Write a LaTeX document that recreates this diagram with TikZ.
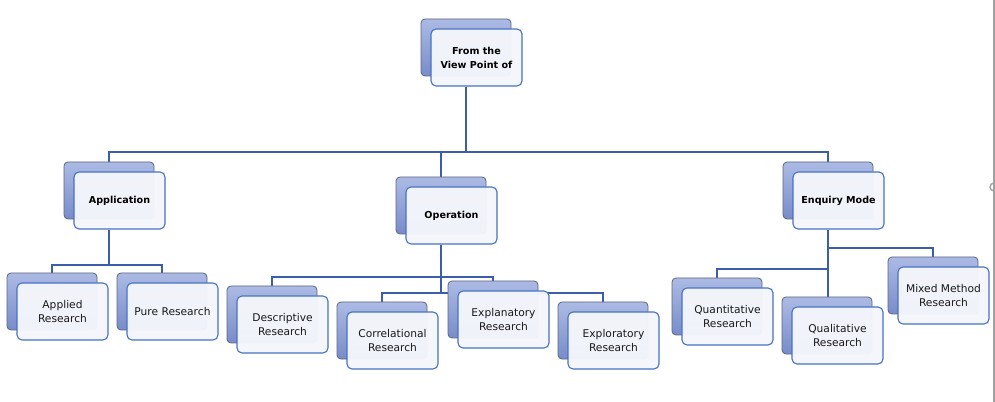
\documentclass[tikz,border=0pt]{standalone}
\usepackage{fontspec}
\setmainfont{DejaVu Sans}
\newdimen\pxu \pxu=0.75pt
\definecolor{backtop}{RGB}{172,186,228}
\definecolor{backbot}{RGB}{120,140,202}
\definecolor{backline}{RGB}{92,102,128}
\definecolor{frontfill}{RGB}{244,246,251}
\definecolor{frontline}{RGB}{70,114,196}
\definecolor{connc}{RGB}{58,94,170}
\definecolor{framec}{RGB}{160,160,160}
\pgfdeclarelayer{front}
\pgfsetlayers{main,front}
\newcommand{\rbox}[5][]{%
  \node[backbox] (#2-b) at (#3+45,#4+28.5) {};
  \node[frontbox,#1] (#2) at (#3+55.5,#4+38.5) {#5};
}
\begin{document}
\begin{tikzpicture}[x=0.75pt,y=-0.75pt,
  backbox/.style={rectangle, rounded corners=4\pxu, minimum width=90\pxu, minimum height=57\pxu,
    inner sep=0pt, top color=backtop, bottom color=backbot, draw=backline, line width=0.8\pxu},
  frontbox/.style={rectangle, rounded corners=5\pxu, minimum width=91\pxu, minimum height=57\pxu,
    inner sep=0pt, fill=frontfill, fill opacity=0.97, text opacity=1, draw=frontline, line width=1.1\pxu,
    align=center, font=\fontsize{8}{10.5}\selectfont, text=black!90},
  headbox/.style={font=\fontsize{7.2}{10.5}\selectfont\bfseries, text=black},
  conn/.style={draw=connc, line width=2.4\pxu}]
\useasboundingbox (0,0) rectangle (995,402);
\coordinate (bus1) at (0,152);
\coordinate (bus2) at (0,265);
\coordinate (bus3a) at (0,277);
\coordinate (bus3b) at (0,293);
\coordinate (bus4a) at (0,248);
\coordinate (bus4b) at (0,269);
\begin{pgfonlayer}{front}
\rbox[headbox]{top}{421}{19}{From the\\View Point of}
\rbox[headbox]{app}{64}{162}{Application}
\rbox[headbox]{op}{396}{177}{Operation}
\rbox[headbox]{enq}{783}{162}{Enquiry Mode}
\rbox{applied}{7}{273}{Applied\\Research}
\rbox{pure}{117}{273}{Pure Research}
\rbox{desc}{227}{286}{Descriptive\\Research}
\rbox{corr}{337}{302}{Correlational\\Research}
\rbox{expl}{448}{281}{Explanatory\\Research}
\rbox{explo}{558}{302}{Exploratory\\Research}
\rbox{quant}{672}{278}{Quantitative\\Research}
\rbox{qual}{782}{297}{Qualitative\\Research}
\rbox{mixed}{888}{257}{Mixed Method\\Research}
\end{pgfonlayer}
% connectors (main layer, behind the boxes)
\draw[conn] (top-b |- top.south) -- (top-b |- bus1) -| (app-b.north);
\draw[conn] (top-b |- bus1) -| (op-b.north);
\draw[conn] (top-b |- bus1) -| (enq-b.north);
\draw[conn] (app-b |- app.south) -- (app-b |- bus2) -| (applied-b.north);
\draw[conn] (app-b |- bus2) -| (pure-b.north);
\draw[conn] (op-b |- op.south) -- (op-b |- bus3b) -| (explo-b.north);
\draw[conn] (op-b |- bus3b) -| (corr-b.north);
\draw[conn] (op-b |- bus3a) -| (desc-b.north);
\draw[conn] (op-b |- bus3a) -| (expl-b.north);
\draw[conn] (enq-b |- enq.south) -- (enq-b |- qual-b.north);
\draw[conn] (enq-b |- bus4a) -| (mixed-b.north);
\draw[conn] (enq-b |- bus4b) -| (quant-b.north);
% selection frame edge at right
\draw[framec, line width=1.2\pxu] (994,0) -- (994,402);
\draw[framec, line width=1.4\pxu] (994,191) arc[start angle=90, end angle=270, radius=4];
\end{tikzpicture}
\end{document}
